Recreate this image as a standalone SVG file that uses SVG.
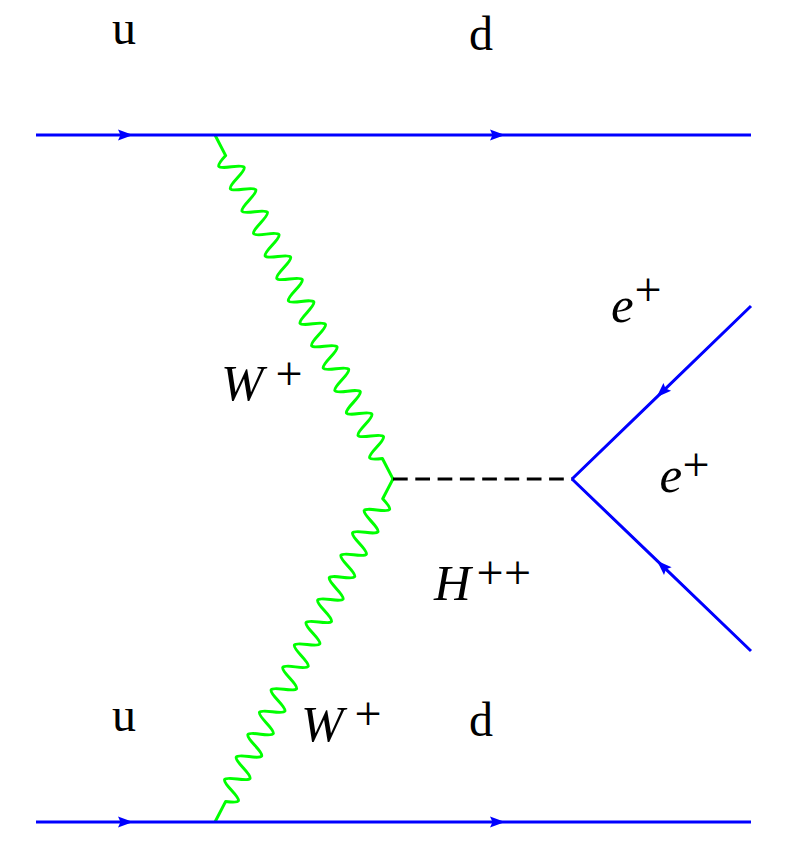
<svg xmlns="http://www.w3.org/2000/svg" width="788" height="857" viewBox="0 0 788 857">
<style>
.fermion{fill:none;stroke:#0000ff;stroke-width:3;marker-mid:url(#arr)}
.boson{fill:none;stroke:#00ff00;stroke-width:3;stroke-linejoin:round}
.scalar{fill:none;stroke:#000000;stroke-width:3.2;stroke-dasharray:14.7 7.6}
.rm{font-family:"Liberation Serif","Times New Roman",serif;font-size:48px;fill:#000}
.it{font-family:"Liberation Serif","Times New Roman",serif;font-style:italic;font-size:51px;fill:#000}
.sup{font-style:normal;font-size:48px}
</style>
<defs>
<marker id="arr" markerUnits="userSpaceOnUse" viewBox="-16 -7 17 14" markerWidth="17" markerHeight="14" refX="0" refY="0" orient="auto" overflow="visible">
<path d="M0,0 L-15,-5.5 L-12.5,0 L-15,5.5 Z" fill="#0000ff"/>
</marker>
<path id="wave" d="M0,0 h23.2 c5.36,14.67 7.27,14.67 12.63,0 s7.27,-14.67 12.63,0 s7.27,14.67 12.63,0 s7.27,-14.67 12.63,0 s7.27,14.67 12.63,0 s7.27,-14.67 12.63,0 s7.27,14.67 12.63,0 s7.27,-14.67 12.63,0 s7.27,14.67 12.63,0 s7.27,-14.67 12.63,0 s7.27,14.67 12.63,0 s7.27,-14.67 12.63,0 s7.27,14.67 12.63,0 s7.27,-14.67 12.63,0 s7.27,14.67 12.63,0 s7.27,-14.67 12.63,0 s7.27,14.67 12.63,0 s7.27,-14.67 12.63,0 s7.27,14.67 12.63,0 s7.27,-14.67 12.63,0 s7.27,14.67 12.63,0 s7.27,-14.67 12.63,0 s7.27,14.67 12.63,0 s7.27,-14.67 12.63,0 s7.27,14.67 12.63,0 s7.27,-14.67 12.63,0 s7.27,14.67 12.63,0 h23.2"/>
</defs>
<rect width="788" height="857" fill="#ffffff"/>
<g id="connectors">
<use href="#wave" class="boson" transform="translate(215,135) rotate(62.64)"/>
<use href="#wave" class="boson" transform="translate(215,822) rotate(-62.58)"/>
<path class="scalar" d="M393,479 H572"/>
<path class="fermion" d="M36,135 L133,135 L505,135 L751,135"/>
<path class="fermion" d="M36,822 L133,822 L505,822 L751,822"/>
<path class="fermion" d="M751,306 L656.5,397.3 L572,479"/>
<path class="fermion" d="M751,651 L657,560.7 L572,479"/>
</g>
<g id="label-u-top"><text class="rm" x="112" y="44">u</text></g>
<g id="label-d-top"><text class="rm" x="469" y="50">d</text></g>
<g id="label-u-bottom"><text class="rm" x="112" y="731">u</text></g>
<g id="label-d-bottom"><text class="rm" x="469" y="736">d</text></g>
<g id="label-W-upper"><text class="it" x="221" y="400">W<tspan class="sup" x="275.5" y="390.1">+</tspan></text></g>
<g id="label-W-lower"><text class="it" x="301" y="741">W<tspan class="sup" x="354.5" y="730.1">+</tspan></text></g>
<g id="label-H"><text class="it" x="434" y="600">H<tspan class="sup" x="476.5" y="588.6">+</tspan><tspan class="sup" x="504" y="588.6">+</tspan></text></g>
<g id="label-e-upper"><text class="it" x="611" y="321.7">e<tspan class="sup" x="634.5" y="306.1">+</tspan></text></g>
<g id="label-e-lower"><text class="it" x="659.5" y="491.7">e<tspan class="sup" x="682.5" y="481.1">+</tspan></text></g>
</svg>
